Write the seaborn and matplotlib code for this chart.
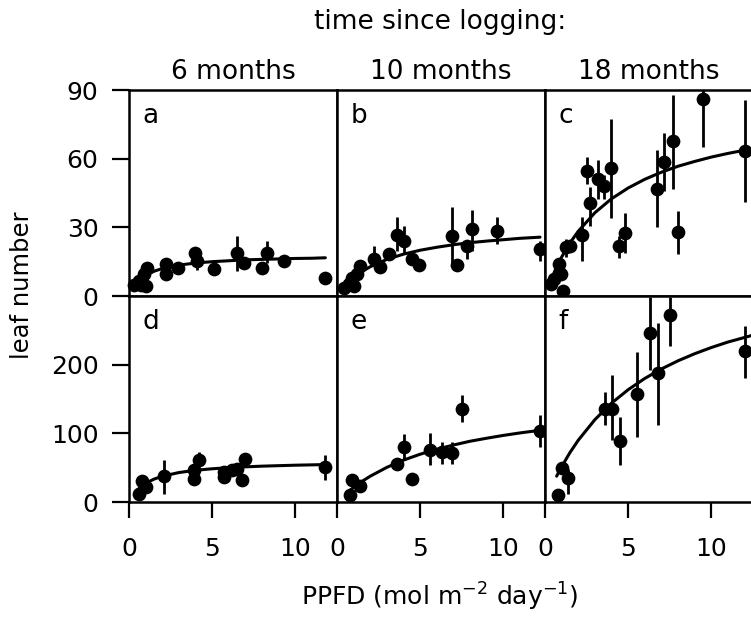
import numpy as np
import pandas as pd
import matplotlib
matplotlib.use("Agg")
import matplotlib.pyplot as plt
import seaborn as sns

# ---- data (x = PPFD, y = leaf number) ----
# panel a: 6 months, top row
a_x = [0.3, 0.6, 0.7, 1.0, 1.1, 0.9, 2.2, 2.2, 2.95, 3.95, 4.1, 5.1, 6.5, 6.9, 8.0, 8.3, 9.3, 11.75]
a_y = [4.8, 6.6, 5.0, 4.4, 12.4, 9.5, 13.9, 9.8, 12.4, 18.6, 15.4, 11.7, 19.0, 14.6, 12.4, 19.0, 15.4, 8.0]
a_lo = [4.8, 6.6, 5.0, 4.4, 12.4, 9.5, 13.9, 9.8, 12.4, 16.0, 11.5, 11.7, 11.0, 14.6, 12.4, 14.6, 15.4, 8.0]
a_hi = [4.8, 6.6, 5.0, 4.4, 12.4, 9.5, 13.9, 9.8, 12.4, 20.0, 15.4, 11.7, 26.4, 14.6, 12.4, 24.0, 15.4, 8.0]
a_cx = [0.4, 0.7, 1.0, 1.5, 2.0, 3.0, 4.0, 5.0, 6.0, 7.0, 8.0, 9.0, 10.0, 11.0, 11.8]
a_cy = [5.1, 7.4, 9.0, 10.8, 12.0, 13.5, 14.4, 15.0, 15.4, 15.8, 16.0, 16.2, 16.4, 16.5, 16.7]

# panel b: 10 months, top row
b_x = [0.4, 0.7, 1.0, 0.9, 1.2, 1.4, 2.2, 2.6, 3.1, 3.6, 4.0, 4.5, 4.9, 6.9, 7.2, 7.8, 8.1, 9.6, 12.2]
b_y = [3.4, 5.1, 4.4, 8.0, 9.5, 13.2, 16.1, 12.7, 18.3, 26.8, 23.9, 16.1, 13.6, 26.4, 13.6, 22.0, 29.3, 28.3, 20.5]
b_lo = [3.4, 5.1, 4.4, 8.0, 9.5, 13.2, 16.1, 12.7, 18.3, 19.8, 18.3, 16.1, 13.6, 14.0, 13.6, 16.0, 19.8, 22.7, 15.4]
b_hi = [3.4, 5.1, 4.4, 8.0, 9.5, 13.2, 21.7, 12.7, 18.3, 34.4, 30.7, 16.1, 13.6, 39.0, 13.6, 22.0, 37.6, 34.4, 24.2]
b_cx = [0.3, 0.7, 1.0, 1.5, 2.0, 3.0, 4.0, 5.0, 6.0, 7.0, 8.0, 9.0, 10.0, 11.0, 12.2]
b_cy = [2.9, 5.7, 8.0, 10.7, 12.8, 16.0, 18.3, 20.0, 21.3, 22.4, 23.3, 24.0, 24.6, 25.2, 25.7]

# panel c: 18 months, top row
c_x = [0.36, 0.56, 0.86, 0.96, 1.06, 1.27, 1.5, 2.23, 2.53, 2.71, 3.17, 3.57, 3.98, 4.44, 4.82, 6.75, 7.15, 7.69, 8.0, 9.5, 12.0]
c_y = [5.1, 7.3, 13.9, 9.5, 2.2, 21.2, 22.0, 26.8, 54.6, 40.6, 51.1, 47.9, 56.1, 22.0, 27.5, 46.9, 58.6, 67.8, 27.8, 85.9, 63.4]
c_lo = [5.1, 7.3, 13.9, 9.5, 2.2, 17.0, 22.0, 15.4, 49.0, 30.7, 42.5, 42.5, 34.1, 16.5, 18.6, 30.0, 46.0, 46.9, 18.3, 65.0, 41.0]
c_hi = [5.1, 7.3, 13.9, 9.5, 2.2, 25.0, 22.0, 34.4, 60.8, 47.6, 59.3, 53.0, 77.2, 26.0, 36.2, 63.7, 71.0, 87.8, 37.3, 92.0, 85.7]
c_cx = [0.3, 0.6, 1.0, 1.5, 2.0, 3.0, 4.0, 5.0, 6.0, 7.0, 8.0, 9.0, 10.0, 11.0, 12.5]
c_cy = [5.9, 11.1, 17.0, 23.2, 28.3, 36.4, 42.5, 47.2, 51.0, 54.1, 56.7, 58.8, 60.7, 62.3, 64.4]

# panel d: 6 months, bottom row
d_x = [0.6, 0.8, 1.0, 2.1, 3.9, 3.9, 4.2, 5.7, 5.7, 6.2, 6.5, 6.8, 7.0, 11.8]
d_y = [11.2, 30.6, 21.9, 37.4, 46.0, 34.0, 61.7, 43.8, 36.5, 46.2, 48.6, 31.6, 63.2, 51.0]
d_lo = [11.2, 30.6, 21.9, 12.2, 46.0, 34.0, 51.0, 43.8, 36.5, 46.2, 48.6, 31.6, 63.2, 32.6]
d_hi = [11.2, 30.6, 21.9, 60.8, 46.0, 34.0, 73.0, 43.8, 36.5, 46.2, 48.6, 31.6, 63.2, 68.0]
d_cx = [0.5, 0.8, 1.0, 1.5, 2.0, 3.0, 4.0, 5.0, 6.0, 7.0, 8.0, 9.0, 10.0, 11.0, 11.8]
d_cy = [17.6, 24.0, 27.3, 33.3, 37.5, 42.9, 46.2, 48.4, 50.0, 51.2, 52.2, 52.9, 53.6, 54.1, 54.5]

# panel e: 10 months, bottom row
e_x = [0.8, 0.9, 1.4, 3.6, 4.0, 4.5, 5.6, 6.3, 6.9, 7.5, 12.2]
e_y = [9.7, 32.6, 22.8, 55.9, 80.2, 34.0, 76.3, 72.9, 72.0, 136.1, 103.5]
e_lo = [9.7, 32.6, 22.8, 55.9, 60.8, 34.0, 53.5, 55.9, 55.0, 116.7, 80.2]
e_hi = [9.7, 32.6, 22.8, 55.9, 99.7, 34.0, 100.6, 87.5, 87.0, 155.6, 126.4]
e_cx = [0.6, 1.0, 1.5, 2.0, 3.0, 4.0, 5.0, 6.0, 7.0, 8.0, 9.0, 10.0, 11.0, 12.2]
e_cy = [13.5, 21.3, 30.0, 37.6, 50.5, 61.0, 69.6, 76.8, 83.0, 88.5, 92.9, 97.0, 100.6, 104.4]

# panel f: 18 months, bottom row
f_x = [0.8, 1.0, 1.4, 3.6, 4.0, 4.5, 5.5, 6.3, 6.8, 7.5, 12.0]
f_y = [9.7, 49.6, 35.5, 136.0, 136.0, 89.0, 158.0, 245.5, 188.0, 272.0, 220.0]
f_lo = [9.7, 49.6, 12.0, 112.0, 90.0, 53.5, 94.8, 192.0, 112.0, 227.0, 181.0]
f_hi = [9.7, 49.6, 48.0, 160.0, 184.7, 124.0, 218.8, 299.0, 260.0, 299.0, 256.0]
f_cx = [0.7, 1.0, 1.5, 2.0, 3.0, 4.0, 5.0, 6.0, 7.0, 8.0, 9.0, 10.0, 11.0, 12.5]
f_cy = [37.6, 51.4, 72.0, 90.0, 120.0, 144.0, 163.6, 180.0, 193.8, 205.7, 216.0, 225.0, 233.0, 243.0]

panel_letters = ["a", "b", "c", "d", "e", "f"]
col_titles = ["6 months", "10 months", "18 months"]
top_ticks = [0, 30, 60, 90]
bottom_ticks = [0, 100, 200]
x_ticks = [0, 5, 10]

panels = [
    (a_x, a_y, a_lo, a_hi, a_cx, a_cy),
    (b_x, b_y, b_lo, b_hi, b_cx, b_cy),
    (c_x, c_y, c_lo, c_hi, c_cx, c_cy),
    (d_x, d_y, d_lo, d_hi, d_cx, d_cy),
    (e_x, e_y, e_lo, e_hi, e_cx, e_cy),
    (f_x, f_y, f_lo, f_hi, f_cx, f_cy),
]

sns.set_theme(style="ticks")
plt.rcParams["font.family"] = ["DejaVu Sans"]
plt.rcParams["text.color"] = "black"
plt.rcParams["axes.labelcolor"] = "black"
plt.rcParams["xtick.color"] = "black"
plt.rcParams["ytick.color"] = "black"

fig, axes = plt.subplots(2, 3, figsize=(7.51, 6.18), dpi=100)
plt.subplots_adjust(left=129 / 751, right=753 / 751, top=1 - 90 / 618,
                    bottom=1 - 502 / 618, wspace=0, hspace=0)

for i, ax in enumerate(axes.flat):
    x, y, lo, hi, cx, cy = panels[i]
    pts = pd.DataFrame({"x": x, "y": y})
    curve = pd.DataFrame({"x": cx, "y": cy})
    ax.vlines(x, lo, hi, color="black", lw=2.0, zorder=2)
    sns.lineplot(data=curve, x="x", y="y", ax=ax, color="black", lw=2.2,
                 sort=False, estimator=None, zorder=3)
    sns.scatterplot(data=pts, x="x", y="y", ax=ax, color="black", s=98,
                    edgecolor="black", linewidth=0, zorder=4, clip_on=False)
    ax.set_xlim(0, 12.5)
    row, col = divmod(i, 3)
    if row == 0:
        ax.set_ylim(0, 90)
        ax.set_yticks(top_ticks)
        ax.set_xticks([])
    else:
        ax.set_ylim(0, 300)
        ax.set_yticks(bottom_ticks)
        ax.set_xticks(x_ticks)
        ax.tick_params(axis="x", direction="out", length=11.5, width=1.6,
                       pad=13.5, labelsize=18, color="black", labelcolor="black")
    if col == 0:
        ax.tick_params(axis="y", direction="out", length=12, width=1.6,
                       pad=10, labelsize=18, color="black", labelcolor="black")
    else:
        ax.tick_params(axis="y", left=False, labelleft=False)
    for sp in ax.spines.values():
        sp.set_visible(True)
        sp.set_linewidth(1.8)
        sp.set_color("black")
    ax.set_xlabel("")
    ax.set_ylabel("")
    ax.text(0.065, 0.935, panel_letters[i], transform=ax.transAxes,
            fontsize=19, ha="left", va="top", color="black")
    if row == 0:
        ax.set_title(col_titles[col], fontsize=19, pad=8, color="black")

fig.text(0.586, 0.964, "time since logging:", fontsize=19, ha="center", va="center")
fig.text(0.029, 0.539, "leaf number", fontsize=17.5, rotation=90, ha="center", va="center")
fig.text(0.586, 0.034, "PPFD (mol m$^{-2}$ day$^{-1}$)", fontsize=18, ha="center", va="center")

fig.savefig("out.png", dpi=100)
